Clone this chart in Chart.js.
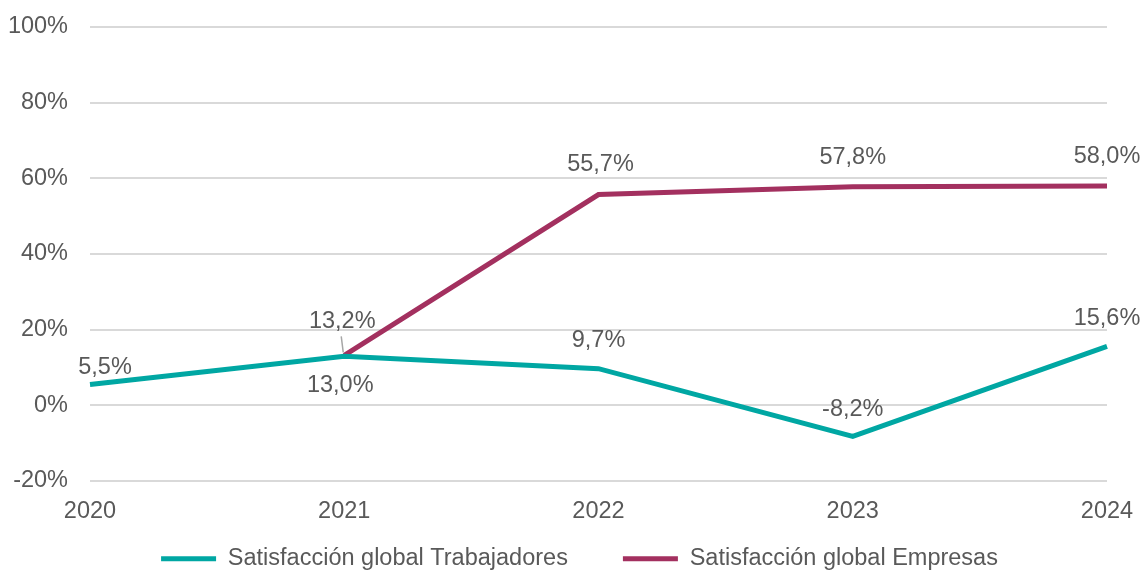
<!DOCTYPE html>
<html lang="es">
<head>
<meta charset="UTF-8">
<title>Satisfacción global</title>
<script src="https://cdn.jsdelivr.net/npm/chart.js"></script>
<style>
  html, body { margin: 0; padding: 0; background: #fff; }
  #wrap { width: 1143px; height: 572px; }
</style>
</head>
<body>
<div id="wrap"><canvas id="grafico" width="1143" height="572"></canvas></div>
<script>
// datos
const anios = ['2020', '2021', '2022', '2023', '2024'];
const trabajadores = [5.5, 13.0, 9.7, -8.2, 15.6];
const empresas = [null, 13.2, 55.7, 57.8, 58.0];
const ticksY = [-20, 0, 20, 40, 60, 80, 100];

// desplazamiento de las etiquetas respecto al punto (px)
const offsets = [
  [[15, -17], [-4, 29], [0, -28], [0, -27], [0, -28]],
  [null, [-2, -34], [2, -30], [0, -29], [0, -29]]
];

const gris = '#595959';
const tam = 23.5;
const fmt = v => v.toFixed(1).replace('.', ',') + '%';

const etiquetas = {
  id: 'etiquetas',
  afterLayout(chart) {
    // subir y centrar la leyenda (el padding grande solo sirve para separar los elementos)
    const lg = chart.legend;
    lg.top -= 34;
    lg.left += 26; lg.right += 26;
  },
  afterDatasetsDraw(chart) {
    const ctx = chart.ctx;
    ctx.save();
    ctx.font = tam + 'px "Liberation Sans", Arial, sans-serif';
    ctx.fillStyle = gris;
    ctx.textAlign = 'center';
    ctx.textBaseline = 'middle';
    chart.data.datasets.forEach((ds, i) => {
      chart.getDatasetMeta(i).data.forEach((pt, j) => {
        const v = ds.data[j];
        if (v === null) return;
        const off = offsets[i][j];
        const x = pt.x + off[0], y = pt.y + off[1];
        if (i === 1 && j === 1) {
          // línea guía
          ctx.strokeStyle = '#a6a6a6';
          ctx.lineWidth = 1.5;
          ctx.beginPath();
          ctx.moveTo(pt.x - 1, pt.y - 3);
          ctx.lineTo(pt.x - 3, pt.y - 19);
          ctx.stroke();
        }
        ctx.fillText(fmt(v), x, y);
      });
    });
    ctx.restore();
  }
};

new Chart(document.getElementById('grafico').getContext('2d'), {
  type: 'line',
  data: {
    labels: anios,
    datasets: [
      { label: 'Satisfacción global Trabajadores', data: trabajadores, borderColor: '#00a7a3', backgroundColor: '#00a7a3' },
      { label: 'Satisfacción global Empresas', data: empresas, borderColor: '#a3305f', backgroundColor: '#a3305f' }
    ]
  },
  options: {
    responsive: false,
    animation: false,
    elements: {
      line: { borderWidth: 5, tension: 0, borderCapStyle: 'butt' },
      point: { radius: 0, hoverRadius: 0 }
    },
    layout: { padding: { top: 27, right: 36, left: 0, bottom: 0 } },
    font: { family: '"Liberation Sans", Arial, sans-serif', size: tam },
    scales: {
      x: {
        offset: false,
        afterFit: s => { s.height = 45; s.paddingLeft = 0; s.paddingRight = 0; },
        grid: { display: false, drawTicks: false },
        border: { display: false },
        ticks: { color: gris, padding: 16, font: { size: tam }, maxRotation: 0 }
      },
      y: {
        min: -20, max: 100,
        afterFit: s => { s.width = 90; s.paddingTop = 0; s.paddingBottom = 0; },
        afterBuildTicks: s => { s.ticks = ticksY.map(v => ({ value: v })); },
        grid: { color: '#d9d9d9', lineWidth: 2, drawTicks: false },
        border: { display: false },
        ticks: { color: gris, padding: 22, font: { size: tam }, callback: v => v + '%' }
      }
    },
    plugins: {
      tooltip: { enabled: false },
      legend: {
        position: 'bottom',
        maxHeight: 46,
        labels: {
          color: gris,
          font: { size: tam },
          boxWidth: 55,
          boxHeight: 5,
          padding: 55,
          useBorderRadius: true,
          borderRadius: 2.5,
          generateLabels: chart => chart.data.datasets.map((ds, i) => ({
            text: ds.label, fillStyle: ds.borderColor, strokeStyle: ds.borderColor,
            lineWidth: 0, fontColor: gris, datasetIndex: i, hidden: false
          }))
        }
      }
    }
  },
  plugins: [etiquetas]
});
</script>
</body>
</html>
